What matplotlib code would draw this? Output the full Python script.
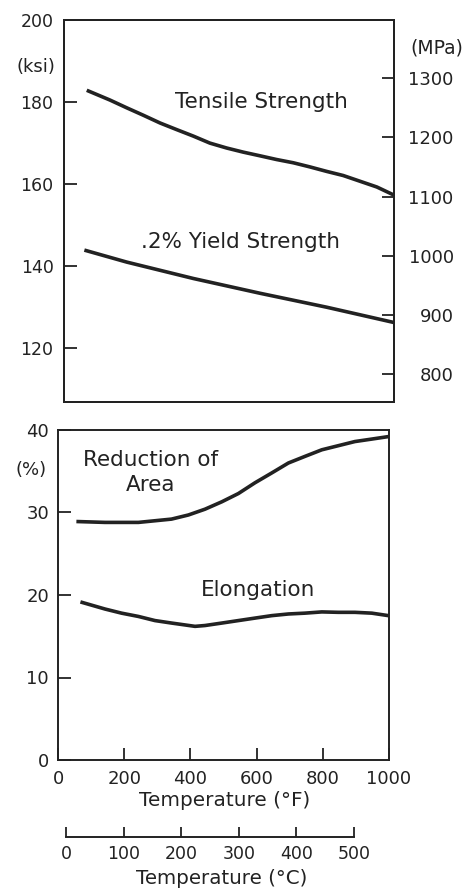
import matplotlib
matplotlib.use("Agg")
import matplotlib.pyplot as plt

# ---------------------------------------------------------------------------
# Data (temperature in deg F)
# ---------------------------------------------------------------------------
TEMP_F_TS = [74, 139, 190, 240, 291, 341, 392, 442, 493, 543, 594, 644, 695,
             745, 796, 846, 897, 948, 998]
TENSILE_KSI = [182.7, 180.5, 178.6, 176.8, 174.9, 173.3, 171.7, 170.0, 168.8,
               167.8, 166.9, 166.0, 165.2, 164.2, 163.1, 162.1, 160.7, 159.3,
               157.4]

TEMP_F_YS = [67, 190, 392, 594, 796, 993]
YIELD_KSI = [143.8, 141.0, 137.0, 133.4, 130.0, 126.4]

TEMP_F_RA = [61, 142, 192, 243, 293, 343, 394, 444, 495, 545, 595, 646, 696,
             746, 797, 847, 897, 948, 998]
RED_AREA = [28.9, 28.8, 28.8, 28.8, 29.0, 29.2, 29.7, 30.4, 31.3, 32.3, 33.6,
            34.8, 36.0, 36.8, 37.6, 38.1, 38.6, 38.9, 39.2]

TEMP_F_EL = [73, 142, 192, 243, 293, 343, 414, 444, 495, 545, 595, 646, 696,
             746, 797, 847, 897, 948, 998]
ELONG = [19.1, 18.3, 17.8, 17.4, 16.9, 16.6, 16.2, 16.3, 16.6, 16.9, 17.2,
         17.5, 17.7, 17.8, 17.95, 17.9, 17.9, 17.8, 17.5]

KSI_TICKS = [120, 140, 160, 180, 200]
MPA_TICKS = [800, 900, 1000, 1100, 1200, 1300]
PCT_TICKS = [0, 10, 20, 30, 40]
F_TICKS = [0, 200, 400, 600, 800, 1000]
C_TICKS = [0, 100, 200, 300, 400, 500]

INK = "#222222"
W, H = 472, 892

plt.rcParams["font.family"] = ["DejaVu Sans"]
plt.rcParams["text.color"] = INK
plt.rcParams["xtick.color"] = INK
plt.rcParams["ytick.color"] = INK


def box(l, t, r, b):
    # pixel box (from top-left) -> figure fraction rect
    return [l / W, 1 - b / H, (r - l) / W, (b - t) / H]


def style_spines(a):
    for s in a.spines.values():
        s.set_linewidth(1.4)
        s.set_color(INK)


fig = plt.figure(figsize=(W / 100, H / 100), dpi=100)

# ---------------------------------------------------------------------------
# Top panel: strength
# ---------------------------------------------------------------------------
ax = fig.add_axes(box(64, 20, 394, 402))
ax.plot(TEMP_F_TS, TENSILE_KSI, color=INK, lw=2.6)
ax.plot(TEMP_F_YS, YIELD_KSI, color=INK, lw=2.6)
ax.set_xlim(0, 1000)
ax.set_ylim(106.9, 200)
ax.set_xticks([])
ax.set_yticks(KSI_TICKS)
ax.tick_params(axis="y", direction="in", length=9.5, width=1.3, pad=7.5,
               labelsize=12.5)
style_spines(ax)

ax2 = ax.twinx()
ax2.set_ylim(752.6, 1398.6)
ax2.set_yticks(MPA_TICKS)
ax2.tick_params(axis="y", direction="in", length=8.5, width=1.3, pad=43,
                labelsize=13)
plt.setp(ax2.get_yticklabels(), ha="right")
style_spines(ax2)

ax.text(597, 180.1, "Tensile Strength", ha="center", va="center", fontsize=15.5)
ax.text(536, 145.8, ".2% Yield Strength", ha="center", va="center", fontsize=15.5)

# ---------------------------------------------------------------------------
# Bottom panel: ductility
# ---------------------------------------------------------------------------
bx = fig.add_axes(box(58, 430, 389, 760))
bx.plot(TEMP_F_RA, RED_AREA, color=INK, lw=2.6)
bx.plot(TEMP_F_EL, ELONG, color=INK, lw=2.6)
bx.set_xlim(0, 1000)
bx.set_ylim(0, 40)
bx.set_xticks(F_TICKS)
bx.set_yticks(PCT_TICKS)
bx.tick_params(axis="both", direction="in", length=9, width=1.3, labelsize=13)
bx.tick_params(axis="x", pad=7)
bx.tick_params(axis="y", pad=6.5)
style_spines(bx)

bx.text(279, 34.8, "Reduction of\nArea", ha="center", va="center",
        linespacing=1.3, fontsize=15.5)
bx.text(603, 20.6, "Elongation", ha="center", va="center", fontsize=15.5)

# ---------------------------------------------------------------------------
# Celsius scale
# ---------------------------------------------------------------------------
cx = fig.add_axes(box(66, 827, 354, 837))
cx.patch.set_alpha(0)
for side in ("top", "left", "right"):
    cx.spines[side].set_visible(False)
cx.spines["bottom"].set_linewidth(1.4)
cx.spines["bottom"].set_color(INK)
cx.set_xlim(0, 500)
cx.set_yticks([])
cx.set_xticks(C_TICKS)
cx.tick_params(axis="x", direction="in", length=7.5, width=1.3, pad=5.5,
               labelsize=12.5)

# Units and axis titles
fig.text(35.5 / W, 1 - 67 / H, "(ksi)", ha="center", va="center", fontsize=13)
fig.text(437 / W, 1 - 48 / H, "(MPa)", ha="center", va="center", fontsize=13.5)
fig.text(31 / W, 1 - 470 / H, "(%)", ha="center", va="center", fontsize=13)
fig.text(225 / W, 1 - 800 / H, "Temperature (°F)", ha="center", va="center",
         fontsize=14.4)
fig.text(222 / W, 1 - 878 / H, "Temperature (°C)", ha="center", va="center",
         fontsize=14.3)

fig.savefig("out.png", dpi=100)
